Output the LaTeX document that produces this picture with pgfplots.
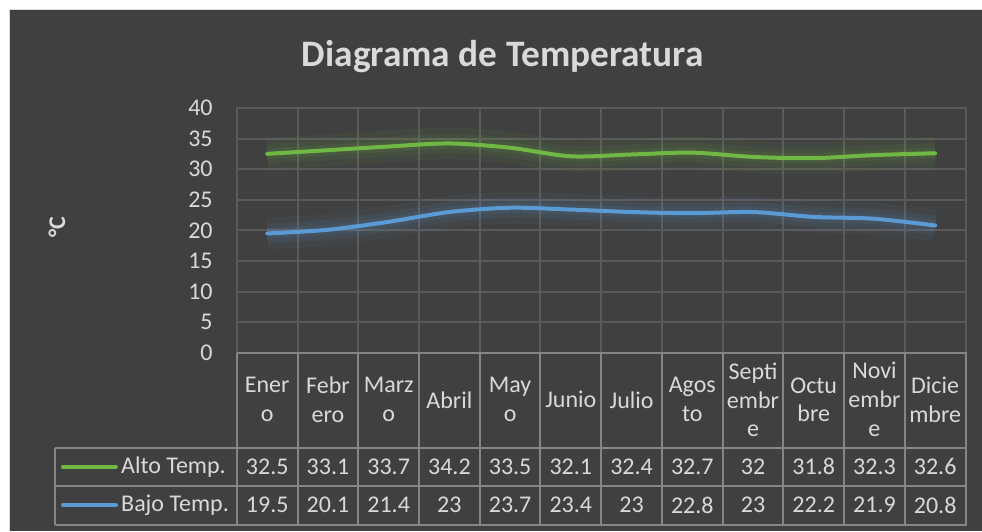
\documentclass[border=0pt]{standalone}
\usepackage{pgfplots}
\pgfplotsset{compat=1.18}
\usepackage{fontspec}
\setmainfont{Carlito}
\definecolor{bg}{HTML}{404040}
\definecolor{txt}{HTML}{D9D9D9}
\definecolor{gridc}{HTML}{5A5A5A}
\definecolor{tabc}{HTML}{858585}
\definecolor{altoc}{HTML}{70B844}
\definecolor{bajoc}{HTML}{5B9BD5}
\begin{document}
\begin{tikzpicture}
\begin{scope}[x=0.75pt,y=0.75pt]
\fill[white] (0,0) rectangle (982,531);
\fill[bg] (10,0) rectangle (982,521);
\draw[black!15, line width=0.75pt] (10,0) -- (10,521) -- (982,521);
\node[font=\bfseries\fontsize{28}{33}\selectfont, text=txt] at (503,474) {Diagrama de Temperatura};
\node[font=\bfseries\fontsize{18}{21}\selectfont, text=txt, rotate=90] at (57,304) {°C};
\end{scope}
\begin{axis}[at={(177.75pt,133.5pt)}, anchor=south west, scale only axis,
  width=546.75pt, height=183.75pt,
  xmin=-0.5, xmax=11.5, ymin=0, ymax=40,
  ytick={0,5,...,40}, xtick={-0.5,0.5,...,11.5}, xticklabels={},
  xmajorgrids, ymajorgrids,
  grid style={gridc, line width=1.5pt},
  axis line style={gridc, line width=1.5pt},
  major tick length=0pt,
  yticklabel style={font=\fontsize{18}{21}\selectfont, text=txt, inner sep=0pt, xshift=-18pt},
  /pgf/number format/assume math mode=true,
  clip=false]
\addplot[altoc, line width=24pt, opacity=0.06, smooth, forget plot] coordinates {(0,32.5)(1,33.1)(2,33.7)(3,34.2)(4,33.5)(5,32.1)(6,32.4)(7,32.7)(8,32)(9,31.8)(10,32.3)(11,32.6)};
\addplot[altoc, line width=15pt, opacity=0.08, smooth, forget plot] coordinates {(0,32.5)(1,33.1)(2,33.7)(3,34.2)(4,33.5)(5,32.1)(6,32.4)(7,32.7)(8,32)(9,31.8)(10,32.3)(11,32.6)};
\addplot[altoc, line width=8pt, opacity=0.10, smooth, forget plot] coordinates {(0,32.5)(1,33.1)(2,33.7)(3,34.2)(4,33.5)(5,32.1)(6,32.4)(7,32.7)(8,32)(9,31.8)(10,32.3)(11,32.6)};
\addplot[altoc, line width=3pt, smooth, line cap=round] coordinates {(0,32.5)(1,33.1)(2,33.7)(3,34.2)(4,33.5)(5,32.1)(6,32.4)(7,32.7)(8,32)(9,31.8)(10,32.3)(11,32.6)};
\addplot[bajoc, line width=24pt, opacity=0.06, smooth, forget plot] coordinates {(0,19.5)(1,20.1)(2,21.4)(3,23)(4,23.7)(5,23.4)(6,23)(7,22.8)(8,23)(9,22.2)(10,21.9)(11,20.8)};
\addplot[bajoc, line width=15pt, opacity=0.08, smooth, forget plot] coordinates {(0,19.5)(1,20.1)(2,21.4)(3,23)(4,23.7)(5,23.4)(6,23)(7,22.8)(8,23)(9,22.2)(10,21.9)(11,20.8)};
\addplot[bajoc, line width=8pt, opacity=0.10, smooth, forget plot] coordinates {(0,19.5)(1,20.1)(2,21.4)(3,23)(4,23.7)(5,23.4)(6,23)(7,22.8)(8,23)(9,22.2)(10,21.9)(11,20.8)};
\addplot[bajoc, line width=3pt, smooth, line cap=round] coordinates {(0,19.5)(1,20.1)(2,21.4)(3,23)(4,23.7)(5,23.4)(6,23)(7,22.8)(8,23)(9,22.2)(10,21.9)(11,20.8)};
\end{axis}
\begin{scope}[x=0.75pt,y=0.75pt]
\begin{scope}[tabc, line width=1.5pt]
\draw (237,178) -- (967,178);
\draw (55,83) -- (967,83);
\draw (55,45) -- (967,45);
\draw (55,6) -- (967,6);
\draw (55,83) -- (55,6);
\foreach \k in {0,...,12} { \draw (237+60.75*\k,178) -- (237+60.75*\k,6); }
\end{scope}
\foreach \n [count=\i from 0] in {{Ener\\o},{Febr\\ero},{Marz\\o},{Abril},{May\\o},{Junio},{Julio},{Agos\\to},{Septi\\embr\\e},{Octu\\bre},{Novi\\embr\\e},{Dicie\\mbre}}
  \node[font=\fontsize{18}{21.75}\selectfont, text=txt, align=center, inner sep=0pt] at (267.375+60.75*\i,131) {\n};
\foreach \v [count=\i from 0] in {32.5,33.1,33.7,34.2,33.5,32.1,32.4,32.7,32,31.8,32.3,32.6}
  \node[font=\fontsize{18}{21.75}\selectfont, text=txt, inner sep=0pt] at (267.375+60.75*\i,64) {\v};
\foreach \v [count=\i from 0] in {19.5,20.1,21.4,23,23.7,23.4,23,22.8,23,22.2,21.9,20.8}
  \node[font=\fontsize{18}{21.75}\selectfont, text=txt, inner sep=0pt] at (267.375+60.75*\i,25.5) {\v};
\draw[altoc, line width=3pt, line cap=round] (63,64) -- (116,64);
\draw[bajoc, line width=3pt, line cap=round] (63,25.5) -- (116,25.5);
\node[font=\fontsize{18}{21.75}\selectfont, text=txt, inner sep=0pt, anchor=west] at (121,64) {Alto Temp.};
\node[font=\fontsize{18}{21.75}\selectfont, text=txt, inner sep=0pt, anchor=west] at (121,25.5) {Bajo Temp.};
\end{scope}
\end{tikzpicture}
\end{document}
